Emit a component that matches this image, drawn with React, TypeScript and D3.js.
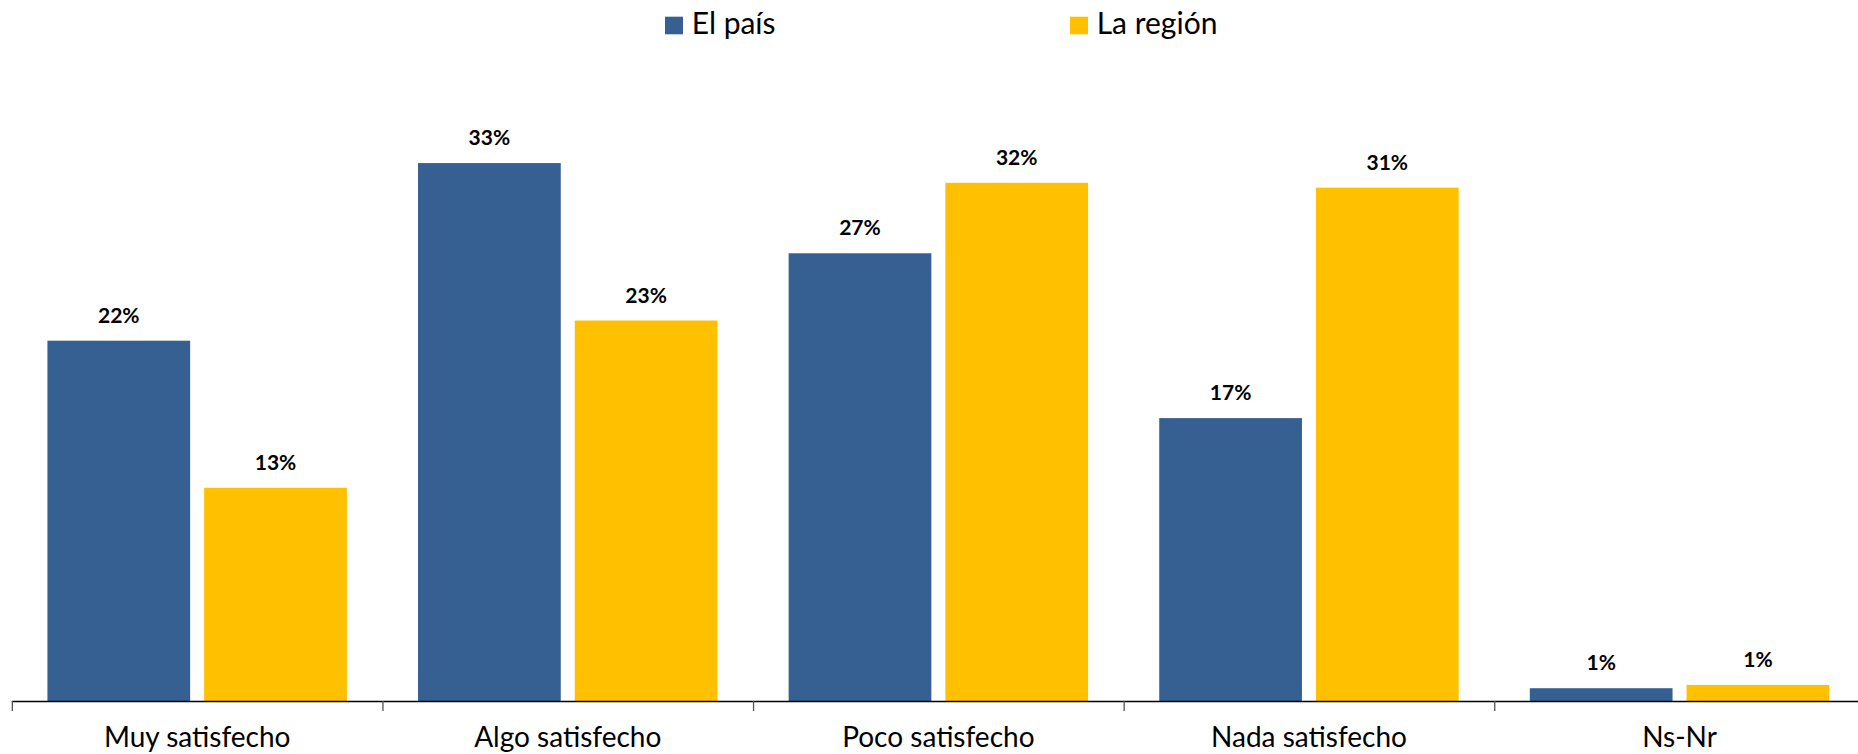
import * as d3 from "d3";

// Data
const categories = ["Muy satisfecho", "Algo satisfecho", "Poco satisfecho", "Nada satisfecho", "Ns-Nr"];
const seriesNames = ["El país", "La región"];
const paisValues = [21.97, 32.8, 27.3, 17.25, 0.78];
const regionValues = [13.0, 23.2, 31.6, 31.3, 0.98];
const paisLabels = ["22%", "33%", "27%", "17%", "1%"];
const regionLabels = ["13%", "23%", "32%", "31%", "1%"];
const colors = ["#376092", "#FFC000"];

const App = () => {
  const width = 1858;
  const height = 754;
  const axisY = 701;
  const left = 11.85;
  const step = 370.6;
  const font = "Lato, 'Open Sans', sans-serif";

  const x0 = d3
    .scaleBand<string>()
    .domain(categories)
    .range([left, left + step * categories.length])
    .padding(0);

  const x1 = d3
    .scaleBand<string>()
    .domain(seriesNames)
    .range([0, x0.bandwidth()])
    .paddingInner(0.0893)
    .paddingOuter(0.227);

  const y = d3.scaleLinear().domain([0, 1]).range([axisY, axisY - 16.4]);

  const series = [
    { name: seriesNames[0], values: paisValues, labels: paisLabels, color: colors[0] },
    { name: seriesNames[1], values: regionValues, labels: regionLabels, color: colors[1] },
  ];

  // legend positions
  const legendX = [665, 1070];

  return (
    <div style={{ position: "absolute", left: 0, top: 0 }}>
      <svg width={width} height={height} style={{ display: "block" }}>
        <rect width={width} height={height} fill="#ffffff" />
        {/* legend */}
        {series.map((s, i) => (
          <g key={s.name}>
            <rect x={legendX[i]} y={16.7} width={18} height={17.6} fill={s.color} />
            <text x={legendX[i] + 26.7} y={34.3} fontFamily={font} fontSize={30} fill="#000">
              {s.name}
            </text>
          </g>
        ))}
        {/* bars */}
        {categories.map((c, ci) => (
          <g key={c} transform={`translate(${x0(c)},0)`}>
            {series.map((s) => {
              const v = s.values[ci];
              const bx = x1(s.name) as number;
              return (
                <g key={s.name}>
                  <rect
                    x={bx}
                    y={y(v)}
                    width={x1.bandwidth()}
                    height={axisY - y(v)}
                    fill={s.color}
                  />
                  <text
                    x={bx + x1.bandwidth() / 2}
                    y={y(v) - 18}
                    textAnchor="middle"
                    fontFamily={font}
                    fontWeight="bold"
                    fontSize={21}
                    fill="#000"
                  >
                    {s.labels[ci]}
                  </text>
                </g>
              );
            })}
            <text
              x={x0.bandwidth() / 2}
              y={746.5}
              textAnchor="middle"
              fontFamily={font}
              fontSize={28}
              fill="#000"
            >
              {c}
            </text>
          </g>
        ))}
        {/* axis */}
        <line x1={left} x2={width} y1={axisY + 0.5} y2={axisY + 0.5} stroke="#000" strokeWidth={1.3} />
        {categories.map((c) => (
          <line
            key={c}
            x1={(x0(c) as number) + 0.5}
            x2={(x0(c) as number) + 0.5}
            y1={axisY}
            y2={axisY + 10}
            stroke="#555"
            strokeWidth={1.3}
          />
        ))}
      </svg>
    </div>
  );
};

export default App;
